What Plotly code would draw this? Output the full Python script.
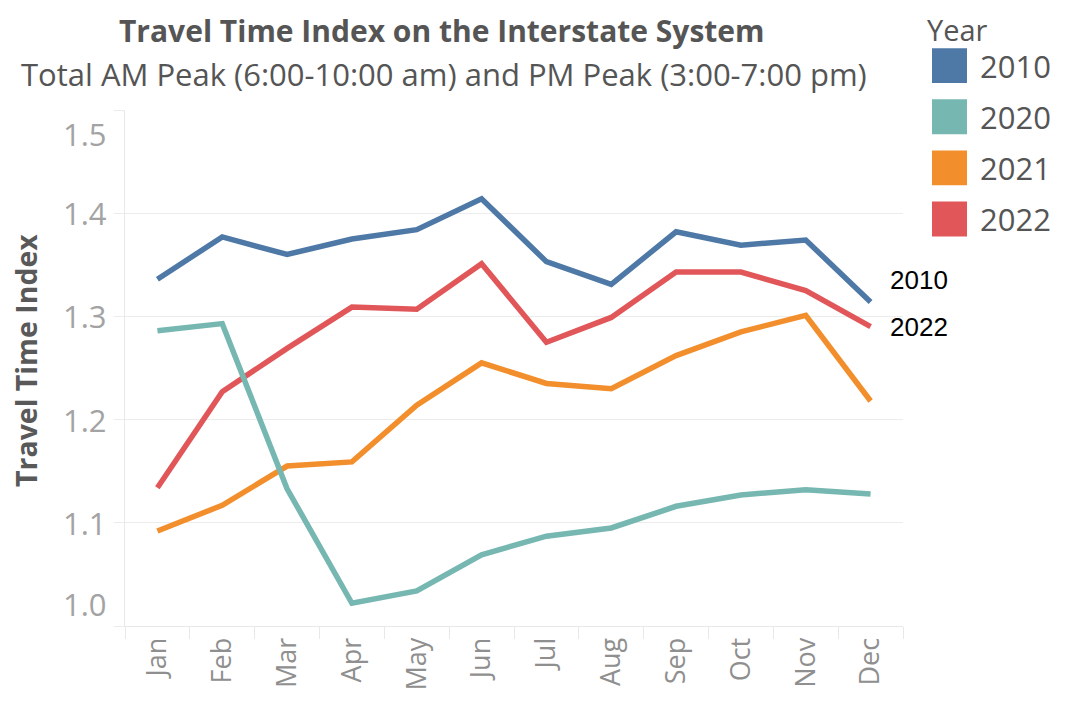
import plotly.graph_objects as go

months = ["Jan", "Feb", "Mar", "Apr", "May", "Jun", "Jul", "Aug", "Sep", "Oct", "Nov", "Dec"]
years = ["2010", "2020", "2021", "2022"]
tti_2010 = [1.336, 1.377, 1.360, 1.375, 1.384, 1.414, 1.353, 1.331, 1.382, 1.369, 1.374, 1.314]
tti_2020 = [1.286, 1.293, 1.133, 1.022, 1.034, 1.069, 1.087, 1.095, 1.116, 1.127, 1.132, 1.128]
tti_2021 = [1.092, 1.117, 1.155, 1.159, 1.214, 1.255, 1.235, 1.230, 1.262, 1.285, 1.301, 1.218]
tti_2022 = [1.134, 1.227, 1.269, 1.309, 1.307, 1.351, 1.275, 1.299, 1.343, 1.343, 1.325, 1.290]
y_ticks = [1.0, 1.1, 1.2, 1.3, 1.4, 1.5]
end_labels = ["2010", "2022"]

colors = {"2010": "#4e79a7", "2020": "#76b7b2", "2021": "#f28e2b", "2022": "#e15759"}
series = {"2010": tti_2010, "2020": tti_2020, "2021": tti_2021, "2022": tti_2022}

# the page body has an 8px margin; size the figure so it fits the 1076x703 window
OFF = 8
W, H = 1076 - OFF, 703 - OFF
ML, MT = 125 - OFF, 110 - OFF
MR = W - (903 - OFF)
MB = H - (628 - OFF)
PW, PH = W - ML - MR, H - MT - MB


def px_x(page_px):
    return (page_px - OFF - ML) / PW


def px_y(page_py):
    return (H + OFF - MB - page_py) / PH


FONT = "'Open Sans', sans-serif"

fig = go.Figure()
for yr in ["2022", "2021", "2020", "2010"]:
    fig.add_trace(go.Scatter(
        x=months, y=series[yr], mode="lines", name=yr,
        line=dict(color=colors[yr], width=5.5), showlegend=False,
    ))

annotations = []
# y tick labels (edge labels pulled inside, as in the reference)
for v in y_ticks:
    shift = 0
    if v == y_ticks[-1]:
        shift = -24
    elif v == y_ticks[0]:
        shift = 22
    annotations.append(dict(
        x=0, xref="paper", y=v, yref="y", text=f"{v:.1f}", showarrow=False,
        xanchor="right", yanchor="middle", xshift=-16, yshift=shift,
        font=dict(family=FONT, size=31, color="#a3a3a3"),
    ))

# axis title
annotations.append(dict(
    x=px_x(26), xref="paper", y=px_y(362), yref="paper", text="<b>Travel Time Index</b>",
    showarrow=False, textangle=-90, xanchor="center", yanchor="middle",
    font=dict(family=FONT, size=28.5, color="#595959"),
))

# titles
annotations.append(dict(
    x=px_x(442), xref="paper", y=px_y(OFF), yref="paper",
    text="<b>Travel Time Index on the Interstate System</b>", showarrow=False,
    xanchor="center", yanchor="top", font=dict(family=FONT, size=30, color="#555555"),
))
annotations.append(dict(
    x=px_x(444), xref="paper", y=px_y(51), yref="paper",
    text="Total AM Peak (6:00-10:00 am) and PM Peak (3:00-7:00 pm)", showarrow=False,
    xanchor="center", yanchor="top", font=dict(family=FONT, size=31, color="#555555"),
))

# end labels
for yr in end_labels:
    shift = 22 if yr == "2010" else 0
    annotations.append(dict(
        x=months[-1], xref="x", y=series[yr][-1], yref="y", text=yr, showarrow=False,
        xanchor="left", yanchor="middle", xshift=17, yshift=shift,
        font=dict(family="'Liberation Sans', Arial, sans-serif", size=26, color="#000000"),
    ))

# legend
shapes = []
annotations.append(dict(
    x=px_x(925), xref="paper", y=px_y(OFF), yref="paper", text="Year", showarrow=False,
    xanchor="left", yanchor="top", font=dict(family=FONT, size=29, color="#555555"),
))
for i, yr in enumerate(years):
    top = 48 + i * 51.3
    shapes.append(dict(
        type="rect", xref="paper", yref="paper",
        x0=px_x(932), x1=px_x(967), y0=px_y(top + 35), y1=px_y(top),
        fillcolor=colors[yr], line=dict(width=0), layer="above",
    ))
    annotations.append(dict(
        x=px_x(978), xref="paper", y=px_y(top + 18), yref="paper", text=yr, showarrow=False,
        xanchor="left", yanchor="middle", font=dict(family=FONT, size=31, color="#555555"),
    ))

fig.update_layout(
    width=W, height=H,
    margin=dict(l=ML, r=MR, t=MT, b=MB, pad=0),
    paper_bgcolor="white", plot_bgcolor="white",
    font=dict(family=FONT),
    annotations=annotations, shapes=shapes,
    showlegend=False,
)
fig.update_xaxes(
    type="category", categoryorder="array", categoryarray=months,
    range=[-0.5, 11.5], showgrid=False, zeroline=False,
    showline=True, linecolor="#e8e8e8", linewidth=1,
    ticks="outside", tickson="boundaries", ticklen=12, tickcolor="#e8e8e8",
    tickangle=-90, tickfont=dict(family=FONT, size=27, color="#8f8f8f"),
)
fig.update_yaxes(
    range=[1.0, 1.5], tickvals=y_ticks, showticklabels=False,
    showgrid=True, gridcolor="#ececec", gridwidth=1, zeroline=False,
    showline=True, linecolor="#e8e8e8", linewidth=1,
    ticks="outside", ticklen=10, tickcolor="#ececec",
)

fig.write_html("out.html")
